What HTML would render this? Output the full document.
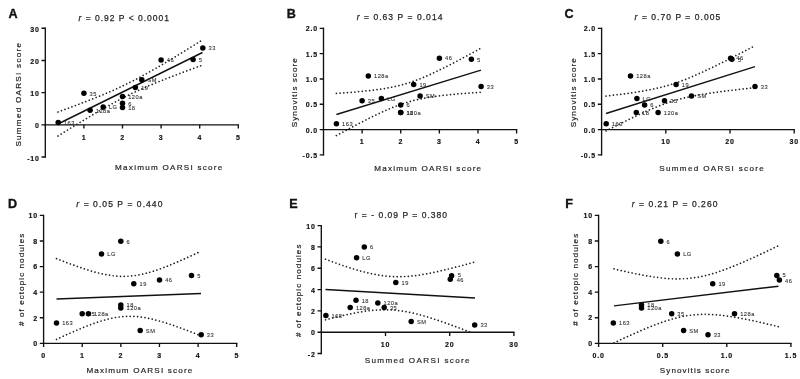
<!DOCTYPE html>
<html><head><meta charset="utf-8"><title>Figure</title>
<style>html,body{margin:0;padding:0;background:#fff}svg{display:block;filter:blur(0.3px)}text{font-family:"Liberation Sans", Arial, sans-serif;white-space:pre}</style></head><body>
<svg width="800" height="379" viewBox="0 0 800 379">
<rect width="800" height="379" fill="#fff"/>
<g stroke="#111" stroke-width="1.35" fill="none" stroke-linecap="square">
<path d="M45.30 28.29V156.97"/>
<path d="M45.30 124.80H238.30"/>
<path d="M41.50 28.29H45.30M41.50 60.46H45.30M41.50 92.63H45.30M41.50 124.80H45.30M41.50 156.97H45.30M83.90 124.80V128.60M122.50 124.80V128.60M161.10 124.80V128.60M199.70 124.80V128.60M238.30 124.80V128.60" stroke-linecap="butt"/>
</g>
<text x="39.80" y="31.89" font-size="7.0" fill="#111" stroke="#111" stroke-width="0.15" font-weight="bold" text-anchor="end" letter-spacing="0.85">30</text>
<text x="39.80" y="64.06" font-size="7.0" fill="#111" stroke="#111" stroke-width="0.15" font-weight="bold" text-anchor="end" letter-spacing="0.85">20</text>
<text x="39.80" y="96.23" font-size="7.0" fill="#111" stroke="#111" stroke-width="0.15" font-weight="bold" text-anchor="end" letter-spacing="0.85">10</text>
<text x="39.80" y="128.40" font-size="7.0" fill="#111" stroke="#111" stroke-width="0.15" font-weight="bold" text-anchor="end" letter-spacing="0.85">0</text>
<text x="39.80" y="160.57" font-size="7.0" fill="#111" stroke="#111" stroke-width="0.15" font-weight="bold" text-anchor="end" letter-spacing="0.85">-10</text>
<text x="84.00" y="139.55" font-size="7.0" fill="#111" stroke="#111" stroke-width="0.15" font-weight="bold" text-anchor="middle" letter-spacing="0.85">1</text>
<text x="122.60" y="139.55" font-size="7.0" fill="#111" stroke="#111" stroke-width="0.15" font-weight="bold" text-anchor="middle" letter-spacing="0.85">2</text>
<text x="161.20" y="139.55" font-size="7.0" fill="#111" stroke="#111" stroke-width="0.15" font-weight="bold" text-anchor="middle" letter-spacing="0.85">3</text>
<text x="199.80" y="139.55" font-size="7.0" fill="#111" stroke="#111" stroke-width="0.15" font-weight="bold" text-anchor="middle" letter-spacing="0.85">4</text>
<text x="238.40" y="139.55" font-size="7.0" fill="#111" stroke="#111" stroke-width="0.15" font-weight="bold" text-anchor="middle" letter-spacing="0.85">5</text>
<path d="M58.0 112.0 L60.4 111.1 L62.8 110.2 L65.2 109.3 L67.6 108.5 L70.0 107.6 L72.5 106.7 L74.9 105.8 L77.3 104.8 L79.7 103.9 L82.1 103.0 L84.5 102.1 L86.9 101.1 L89.3 100.2 L91.7 99.3 L94.1 98.3 L96.5 97.3 L98.9 96.4 L101.3 95.4 L103.8 94.4 L106.2 93.3 L108.6 92.3 L111.0 91.3 L113.4 90.2 L115.8 89.1 L118.2 88.0 L120.6 86.9 L123.0 85.8 L125.4 84.6 L127.8 83.4 L130.2 82.2 L132.7 81.0 L135.1 79.8 L137.5 78.5 L139.9 77.2 L142.3 75.9 L144.7 74.6 L147.1 73.3 L149.5 71.9 L151.9 70.6 L154.3 69.2 L156.7 67.8 L159.2 66.4 L161.6 65.0 L164.0 63.5 L166.4 62.1 L168.8 60.7 L171.2 59.2 L173.6 57.8 L176.0 56.3 L178.4 54.8 L180.8 53.4 L183.2 51.9 L185.6 50.4 L188.1 48.9 L190.5 47.4 L192.9 45.9 L195.3 44.4 L197.7 42.9 L200.1 41.4 L202.5 39.9" fill="none" stroke="#2b1c1c" stroke-width="1.7" stroke-linecap="round" stroke-dasharray="0.01 3.7"/>
<path d="M58.0 136.0 L60.4 134.5 L62.8 133.0 L65.2 131.5 L67.6 130.0 L70.0 128.5 L72.5 127.0 L74.9 125.6 L77.3 124.1 L79.7 122.6 L82.1 121.2 L84.5 119.7 L86.9 118.3 L89.3 116.8 L91.7 115.4 L94.1 114.0 L96.5 112.5 L98.9 111.1 L101.3 109.7 L103.8 108.4 L106.2 107.0 L108.6 105.6 L111.0 104.3 L113.4 103.0 L115.8 101.7 L118.2 100.4 L120.6 99.1 L123.0 97.9 L125.4 96.6 L127.8 95.4 L130.2 94.3 L132.7 93.1 L135.1 92.0 L137.5 90.8 L139.9 89.7 L142.3 88.7 L144.7 87.6 L147.1 86.5 L149.5 85.5 L151.9 84.5 L154.3 83.5 L156.7 82.5 L159.2 81.5 L161.6 80.6 L164.0 79.6 L166.4 78.6 L168.8 77.7 L171.2 76.8 L173.6 75.8 L176.0 74.9 L178.4 74.0 L180.8 73.1 L183.2 72.2 L185.6 71.3 L188.1 70.4 L190.5 69.5 L192.9 68.6 L195.3 67.7 L197.7 66.8 L200.1 66.0 L202.5 65.1" fill="none" stroke="#2b1c1c" stroke-width="1.7" stroke-linecap="round" stroke-dasharray="0.01 3.7"/>
<path d="M58.0 124.0L202.5 52.5" stroke="#111" stroke-width="1.4" fill="none"/>
<circle cx="58.2" cy="122.5" r="2.75" fill="#000"/>
<text x="63.89" y="124.82" font-size="5.7" fill="#333" stroke="#333" stroke-width="0.1" letter-spacing="0.5">163</text>
<circle cx="83.9" cy="93.3" r="2.75" fill="#000"/>
<text x="89.60" y="95.57" font-size="5.7" fill="#333" stroke="#333" stroke-width="0.1" letter-spacing="0.5">35</text>
<circle cx="90.1" cy="110.3" r="2.75" fill="#000"/>
<text x="95.78" y="112.62" font-size="5.7" fill="#333" stroke="#333" stroke-width="0.1" letter-spacing="0.5">128a</text>
<circle cx="103.2" cy="107.1" r="2.75" fill="#000"/>
<text x="108.90" y="109.41" font-size="5.7" fill="#333" stroke="#333" stroke-width="0.1" letter-spacing="0.5">LG</text>
<circle cx="122.5" cy="107.4" r="2.75" fill="#000"/>
<text x="128.20" y="109.73" font-size="5.7" fill="#333" stroke="#333" stroke-width="0.1" letter-spacing="0.5">18</text>
<circle cx="122.5" cy="103.2" r="2.75" fill="#000"/>
<text x="128.20" y="105.55" font-size="5.7" fill="#333" stroke="#333" stroke-width="0.1" letter-spacing="0.5">6</text>
<circle cx="122.5" cy="96.5" r="2.75" fill="#000"/>
<text x="128.20" y="98.79" font-size="5.7" fill="#333" stroke="#333" stroke-width="0.1" letter-spacing="0.5">120a</text>
<circle cx="135.4" cy="87.5" r="2.75" fill="#000"/>
<text x="141.13" y="89.78" font-size="5.7" fill="#333" stroke="#333" stroke-width="0.1" letter-spacing="0.5">19</text>
<circle cx="141.8" cy="79.8" r="2.75" fill="#000"/>
<text x="147.50" y="82.06" font-size="5.7" fill="#333" stroke="#333" stroke-width="0.1" letter-spacing="0.5">SM</text>
<circle cx="161.1" cy="60.1" r="2.75" fill="#000"/>
<text x="166.80" y="62.44" font-size="5.7" fill="#333" stroke="#333" stroke-width="0.1" letter-spacing="0.5">46</text>
<circle cx="193.1" cy="59.5" r="2.75" fill="#000"/>
<text x="198.84" y="61.79" font-size="5.7" fill="#333" stroke="#333" stroke-width="0.1" letter-spacing="0.5">5</text>
<circle cx="202.8" cy="47.9" r="2.75" fill="#000"/>
<text x="208.49" y="50.21" font-size="5.7" fill="#333" stroke="#333" stroke-width="0.1" letter-spacing="0.5">33</text>
<text x="8.45" y="17.70" font-size="12.6" fill="#111" stroke="#111" stroke-width="0.35" font-weight="bold">A</text>
<text x="78.50" y="21.00" font-size="8.5" fill="#262626" stroke="#262626" stroke-width="0.25" textLength="90.50" lengthAdjust="spacing"><tspan font-style="italic">r</tspan> = 0.92 P &lt; 0.0001</text>
<text x="115.10" y="169.50" font-size="8.1" fill="#262626" stroke="#262626" stroke-width="0.2" textLength="107.20" lengthAdjust="spacing">Maximum OARSI score</text>
<text x="21.20" y="146.60" font-size="8.1" fill="#262626" stroke="#262626" stroke-width="0.2" textLength="103.60" lengthAdjust="spacing" transform="rotate(-90 21.20 146.60)">Summed OARSI score</text>
<g stroke="#111" stroke-width="1.35" fill="none" stroke-linecap="square">
<path d="M323.50 28.30V154.92"/>
<path d="M323.50 129.60H516.60"/>
<path d="M319.70 28.30H323.50M319.70 53.62H323.50M319.70 78.95H323.50M319.70 104.27H323.50M319.70 129.60H323.50M319.70 154.92H323.50M362.12 129.60V133.40M400.74 129.60V133.40M439.36 129.60V133.40M477.98 129.60V133.40M516.60 129.60V133.40" stroke-linecap="butt"/>
</g>
<text x="318.00" y="31.40" font-size="7.0" fill="#111" stroke="#111" stroke-width="0.15" font-weight="bold" text-anchor="end" letter-spacing="0.85">2.0</text>
<text x="318.00" y="56.73" font-size="7.0" fill="#111" stroke="#111" stroke-width="0.15" font-weight="bold" text-anchor="end" letter-spacing="0.85">1.5</text>
<text x="318.00" y="82.05" font-size="7.0" fill="#111" stroke="#111" stroke-width="0.15" font-weight="bold" text-anchor="end" letter-spacing="0.85">1.0</text>
<text x="318.00" y="107.37" font-size="7.0" fill="#111" stroke="#111" stroke-width="0.15" font-weight="bold" text-anchor="end" letter-spacing="0.85">0.5</text>
<text x="318.00" y="132.70" font-size="7.0" fill="#111" stroke="#111" stroke-width="0.15" font-weight="bold" text-anchor="end" letter-spacing="0.85">0.0</text>
<text x="318.00" y="158.02" font-size="7.0" fill="#111" stroke="#111" stroke-width="0.15" font-weight="bold" text-anchor="end" letter-spacing="0.85">-0.5</text>
<text x="362.22" y="144.35" font-size="7.0" fill="#111" stroke="#111" stroke-width="0.15" font-weight="bold" text-anchor="middle" letter-spacing="0.85">1</text>
<text x="400.84" y="144.35" font-size="7.0" fill="#111" stroke="#111" stroke-width="0.15" font-weight="bold" text-anchor="middle" letter-spacing="0.85">2</text>
<text x="439.46" y="144.35" font-size="7.0" fill="#111" stroke="#111" stroke-width="0.15" font-weight="bold" text-anchor="middle" letter-spacing="0.85">3</text>
<text x="478.08" y="144.35" font-size="7.0" fill="#111" stroke="#111" stroke-width="0.15" font-weight="bold" text-anchor="middle" letter-spacing="0.85">4</text>
<text x="516.70" y="144.35" font-size="7.0" fill="#111" stroke="#111" stroke-width="0.15" font-weight="bold" text-anchor="middle" letter-spacing="0.85">5</text>
<path d="M336.4 93.4 L338.8 93.2 L341.2 93.1 L343.6 92.9 L346.0 92.7 L348.4 92.5 L350.9 92.4 L353.3 92.2 L355.7 92.0 L358.1 91.7 L360.5 91.5 L362.9 91.3 L365.3 91.0 L367.7 90.8 L370.1 90.5 L372.5 90.2 L375.0 89.9 L377.4 89.6 L379.8 89.3 L382.2 88.9 L384.6 88.5 L387.0 88.1 L389.4 87.7 L391.8 87.2 L394.2 86.7 L396.6 86.2 L399.1 85.6 L401.5 85.0 L403.9 84.3 L406.3 83.6 L408.7 82.8 L411.1 82.1 L413.5 81.2 L415.9 80.3 L418.3 79.4 L420.8 78.5 L423.2 77.5 L425.6 76.4 L428.0 75.4 L430.4 74.3 L432.8 73.2 L435.2 72.0 L437.6 70.9 L440.0 69.7 L442.4 68.5 L444.9 67.3 L447.3 66.1 L449.7 64.9 L452.1 63.6 L454.5 62.4 L456.9 61.1 L459.3 59.9 L461.7 58.6 L464.1 57.3 L466.5 56.0 L468.9 54.7 L471.4 53.4 L473.8 52.1 L476.2 50.8 L478.6 49.5 L481.0 48.1" fill="none" stroke="#2b1c1c" stroke-width="1.7" stroke-linecap="round" stroke-dasharray="0.01 3.7"/>
<path d="M336.4 135.6 L338.8 134.3 L341.2 133.0 L343.6 131.7 L346.0 130.4 L348.4 129.1 L350.9 127.8 L353.3 126.5 L355.7 125.2 L358.1 124.0 L360.5 122.7 L362.9 121.5 L365.3 120.2 L367.7 119.0 L370.1 117.8 L372.5 116.6 L375.0 115.4 L377.4 114.3 L379.8 113.1 L382.2 112.0 L384.6 110.9 L387.0 109.9 L389.4 108.8 L391.8 107.8 L394.2 106.8 L396.6 105.9 L399.1 105.0 L401.5 104.2 L403.9 103.3 L406.3 102.6 L408.7 101.9 L411.1 101.2 L413.5 100.5 L415.9 99.9 L418.3 99.4 L420.8 98.9 L423.2 98.4 L425.6 97.9 L428.0 97.5 L430.4 97.1 L432.8 96.8 L435.2 96.4 L437.6 96.1 L440.0 95.8 L442.4 95.5 L444.9 95.2 L447.3 95.0 L449.7 94.7 L452.1 94.5 L454.5 94.3 L456.9 94.0 L459.3 93.8 L461.7 93.6 L464.1 93.4 L466.5 93.3 L468.9 93.1 L471.4 92.9 L473.8 92.7 L476.2 92.6 L478.6 92.4 L481.0 92.3" fill="none" stroke="#2b1c1c" stroke-width="1.7" stroke-linecap="round" stroke-dasharray="0.01 3.7"/>
<path d="M336.4 114.5L481.0 70.2" stroke="#111" stroke-width="1.4" fill="none"/>
<circle cx="336.4" cy="123.8" r="2.75" fill="#000"/>
<text x="342.10" y="126.08" font-size="5.7" fill="#333" stroke="#333" stroke-width="0.1" letter-spacing="0.5">163</text>
<circle cx="362.1" cy="100.7" r="2.75" fill="#000"/>
<text x="367.82" y="103.03" font-size="5.7" fill="#333" stroke="#333" stroke-width="0.1" letter-spacing="0.5">35</text>
<circle cx="368.3" cy="75.9" r="2.75" fill="#000"/>
<text x="374.00" y="78.21" font-size="5.7" fill="#333" stroke="#333" stroke-width="0.1" letter-spacing="0.5">128a</text>
<circle cx="381.4" cy="98.5" r="2.75" fill="#000"/>
<text x="387.13" y="100.75" font-size="5.7" fill="#333" stroke="#333" stroke-width="0.1" letter-spacing="0.5">LG</text>
<circle cx="400.7" cy="112.6" r="2.75" fill="#000"/>
<text x="406.44" y="114.93" font-size="5.7" fill="#333" stroke="#333" stroke-width="0.1" letter-spacing="0.5">18</text>
<circle cx="400.7" cy="105.0" r="2.75" fill="#000"/>
<text x="406.44" y="107.33" font-size="5.7" fill="#333" stroke="#333" stroke-width="0.1" letter-spacing="0.5">6</text>
<circle cx="400.7" cy="112.6" r="2.75" fill="#000"/>
<text x="406.44" y="114.93" font-size="5.7" fill="#333" stroke="#333" stroke-width="0.1" letter-spacing="0.5">120a</text>
<circle cx="413.7" cy="84.5" r="2.75" fill="#000"/>
<text x="419.38" y="86.82" font-size="5.7" fill="#333" stroke="#333" stroke-width="0.1" letter-spacing="0.5">19</text>
<circle cx="420.1" cy="96.0" r="2.75" fill="#000"/>
<text x="425.75" y="98.32" font-size="5.7" fill="#333" stroke="#333" stroke-width="0.1" letter-spacing="0.5">SM</text>
<circle cx="439.4" cy="58.2" r="2.75" fill="#000"/>
<text x="445.06" y="60.48" font-size="5.7" fill="#333" stroke="#333" stroke-width="0.1" letter-spacing="0.5">46</text>
<circle cx="471.4" cy="59.2" r="2.75" fill="#000"/>
<text x="477.11" y="61.50" font-size="5.7" fill="#333" stroke="#333" stroke-width="0.1" letter-spacing="0.5">5</text>
<circle cx="481.1" cy="86.4" r="2.75" fill="#000"/>
<text x="486.77" y="88.70" font-size="5.7" fill="#333" stroke="#333" stroke-width="0.1" letter-spacing="0.5">33</text>
<text x="286.80" y="17.70" font-size="12.6" fill="#111" stroke="#111" stroke-width="0.35" font-weight="bold">B</text>
<text x="356.70" y="20.10" font-size="8.5" fill="#262626" stroke="#262626" stroke-width="0.25" textLength="85.70" lengthAdjust="spacing"><tspan font-style="italic">r</tspan> = 0.63 P = 0.014</text>
<text x="374.30" y="170.50" font-size="8.1" fill="#262626" stroke="#262626" stroke-width="0.2" textLength="106.80" lengthAdjust="spacing">Maximum OARSI score</text>
<text x="297.10" y="127.20" font-size="8.1" fill="#262626" stroke="#262626" stroke-width="0.2" textLength="68.90" lengthAdjust="spacing" transform="rotate(-90 297.10 127.20)">Synovitis score</text>
<g stroke="#111" stroke-width="1.35" fill="none" stroke-linecap="square">
<path d="M601.60 28.30V154.92"/>
<path d="M601.60 129.60H794.20"/>
<path d="M597.80 28.30H601.60M597.80 53.62H601.60M597.80 78.95H601.60M597.80 104.27H601.60M597.80 129.60H601.60M597.80 154.92H601.60M665.80 129.60V133.40M730.00 129.60V133.40M794.20 129.60V133.40" stroke-linecap="butt"/>
</g>
<text x="596.10" y="31.40" font-size="7.0" fill="#111" stroke="#111" stroke-width="0.15" font-weight="bold" text-anchor="end" letter-spacing="0.85">2.0</text>
<text x="596.10" y="56.73" font-size="7.0" fill="#111" stroke="#111" stroke-width="0.15" font-weight="bold" text-anchor="end" letter-spacing="0.85">1.5</text>
<text x="596.10" y="82.05" font-size="7.0" fill="#111" stroke="#111" stroke-width="0.15" font-weight="bold" text-anchor="end" letter-spacing="0.85">1.0</text>
<text x="596.10" y="107.37" font-size="7.0" fill="#111" stroke="#111" stroke-width="0.15" font-weight="bold" text-anchor="end" letter-spacing="0.85">0.5</text>
<text x="596.10" y="132.70" font-size="7.0" fill="#111" stroke="#111" stroke-width="0.15" font-weight="bold" text-anchor="end" letter-spacing="0.85">0.0</text>
<text x="596.10" y="158.02" font-size="7.0" fill="#111" stroke="#111" stroke-width="0.15" font-weight="bold" text-anchor="end" letter-spacing="0.85">-0.5</text>
<text x="665.90" y="144.35" font-size="7.0" fill="#111" stroke="#111" stroke-width="0.15" font-weight="bold" text-anchor="middle" letter-spacing="0.85">10</text>
<text x="730.10" y="144.35" font-size="7.0" fill="#111" stroke="#111" stroke-width="0.15" font-weight="bold" text-anchor="middle" letter-spacing="0.85">20</text>
<text x="794.30" y="144.35" font-size="7.0" fill="#111" stroke="#111" stroke-width="0.15" font-weight="bold" text-anchor="middle" letter-spacing="0.85">30</text>
<path d="M606.0 96.1 L608.5 95.8 L611.0 95.5 L613.5 95.2 L615.9 94.9 L618.4 94.6 L620.9 94.3 L623.4 94.0 L625.9 93.6 L628.4 93.3 L630.8 92.9 L633.3 92.6 L635.8 92.2 L638.3 91.8 L640.8 91.4 L643.2 91.0 L645.7 90.5 L648.2 90.1 L650.7 89.6 L653.2 89.1 L655.7 88.5 L658.1 88.0 L660.6 87.4 L663.1 86.7 L665.6 86.1 L668.1 85.4 L670.6 84.6 L673.0 83.8 L675.5 83.0 L678.0 82.2 L680.5 81.3 L683.0 80.3 L685.5 79.4 L688.0 78.4 L690.4 77.4 L692.9 76.3 L695.4 75.2 L697.9 74.1 L700.4 73.0 L702.9 71.9 L705.3 70.7 L707.8 69.6 L710.3 68.4 L712.8 67.2 L715.3 66.0 L717.8 64.8 L720.2 63.5 L722.7 62.3 L725.2 61.1 L727.7 59.8 L730.2 58.5 L732.6 57.3 L735.1 56.0 L737.6 54.7 L740.1 53.5 L742.6 52.2 L745.1 50.9 L747.5 49.6 L750.0 48.3 L752.5 47.0 L755.0 45.7" fill="none" stroke="#2b1c1c" stroke-width="1.7" stroke-linecap="round" stroke-dasharray="0.01 3.7"/>
<path d="M606.0 130.9 L608.5 129.6 L611.0 128.4 L613.5 127.1 L615.9 125.9 L618.4 124.6 L620.9 123.4 L623.4 122.1 L625.9 120.9 L628.4 119.7 L630.8 118.5 L633.3 117.3 L635.8 116.1 L638.3 114.9 L640.8 113.8 L643.2 112.6 L645.7 111.5 L648.2 110.4 L650.7 109.3 L653.2 108.3 L655.7 107.3 L658.1 106.3 L660.6 105.3 L663.1 104.4 L665.6 103.5 L668.1 102.6 L670.6 101.8 L673.0 101.0 L675.5 100.3 L678.0 99.6 L680.5 98.9 L683.0 98.3 L685.5 97.7 L688.0 97.1 L690.4 96.6 L692.9 96.1 L695.4 95.6 L697.9 95.1 L700.4 94.7 L702.9 94.3 L705.3 93.9 L707.8 93.5 L710.3 93.1 L712.8 92.7 L715.3 92.4 L717.8 92.0 L720.2 91.7 L722.7 91.4 L725.2 91.1 L727.7 90.8 L730.2 90.5 L732.6 90.2 L735.1 89.9 L737.6 89.6 L740.1 89.3 L742.6 89.0 L745.1 88.8 L747.5 88.5 L750.0 88.2 L752.5 88.0 L755.0 87.7" fill="none" stroke="#2b1c1c" stroke-width="1.7" stroke-linecap="round" stroke-dasharray="0.01 3.7"/>
<path d="M606.0 113.5L755.0 66.7" stroke="#111" stroke-width="1.4" fill="none"/>
<circle cx="606.2" cy="123.8" r="2.75" fill="#000"/>
<text x="611.86" y="126.08" font-size="5.7" fill="#333" stroke="#333" stroke-width="0.1" letter-spacing="0.5">163</text>
<circle cx="664.5" cy="100.7" r="2.75" fill="#000"/>
<text x="670.22" y="103.03" font-size="5.7" fill="#333" stroke="#333" stroke-width="0.1" letter-spacing="0.5">35</text>
<circle cx="630.5" cy="75.9" r="2.75" fill="#000"/>
<text x="636.19" y="78.21" font-size="5.7" fill="#333" stroke="#333" stroke-width="0.1" letter-spacing="0.5">128a</text>
<circle cx="636.9" cy="98.5" r="2.75" fill="#000"/>
<text x="642.61" y="100.75" font-size="5.7" fill="#333" stroke="#333" stroke-width="0.1" letter-spacing="0.5">LG</text>
<circle cx="636.3" cy="112.6" r="2.75" fill="#000"/>
<text x="641.97" y="114.93" font-size="5.7" fill="#333" stroke="#333" stroke-width="0.1" letter-spacing="0.5">18</text>
<circle cx="644.6" cy="105.0" r="2.75" fill="#000"/>
<text x="650.31" y="107.33" font-size="5.7" fill="#333" stroke="#333" stroke-width="0.1" letter-spacing="0.5">6</text>
<circle cx="658.1" cy="112.6" r="2.75" fill="#000"/>
<text x="663.80" y="114.93" font-size="5.7" fill="#333" stroke="#333" stroke-width="0.1" letter-spacing="0.5">120a</text>
<circle cx="676.1" cy="84.5" r="2.75" fill="#000"/>
<text x="681.77" y="86.82" font-size="5.7" fill="#333" stroke="#333" stroke-width="0.1" letter-spacing="0.5">19</text>
<circle cx="691.5" cy="96.0" r="2.75" fill="#000"/>
<text x="697.18" y="98.32" font-size="5.7" fill="#333" stroke="#333" stroke-width="0.1" letter-spacing="0.5">SM</text>
<circle cx="730.6" cy="58.2" r="2.75" fill="#000"/>
<text x="736.34" y="60.48" font-size="5.7" fill="#333" stroke="#333" stroke-width="0.1" letter-spacing="0.5">46</text>
<circle cx="731.9" cy="59.2" r="2.75" fill="#000"/>
<text x="737.63" y="61.50" font-size="5.7" fill="#333" stroke="#333" stroke-width="0.1" letter-spacing="0.5">5</text>
<circle cx="755.0" cy="86.4" r="2.75" fill="#000"/>
<text x="760.74" y="88.70" font-size="5.7" fill="#333" stroke="#333" stroke-width="0.1" letter-spacing="0.5">33</text>
<text x="564.40" y="17.70" font-size="12.6" fill="#111" stroke="#111" stroke-width="0.35" font-weight="bold">C</text>
<text x="634.60" y="20.10" font-size="8.5" fill="#262626" stroke="#262626" stroke-width="0.25" textLength="85.60" lengthAdjust="spacing"><tspan font-style="italic">r</tspan> = 0.70 P = 0.005</text>
<text x="659.20" y="170.50" font-size="8.1" fill="#262626" stroke="#262626" stroke-width="0.2" textLength="104.60" lengthAdjust="spacing">Summed OARSI score</text>
<text x="575.60" y="127.20" font-size="8.1" fill="#262626" stroke="#262626" stroke-width="0.2" textLength="68.90" lengthAdjust="spacing" transform="rotate(-90 575.60 127.20)">Synovitis score</text>
<g stroke="#111" stroke-width="1.35" fill="none" stroke-linecap="square">
<path d="M43.60 215.40V343.30"/>
<path d="M43.60 343.30H236.70"/>
<path d="M39.80 215.40H43.60M39.80 240.98H43.60M39.80 266.56H43.60M39.80 292.14H43.60M39.80 317.72H43.60M39.80 343.30H43.60M43.60 343.30V347.10M82.22 343.30V347.10M120.84 343.30V347.10M159.46 343.30V347.10M198.08 343.30V347.10M236.70 343.30V347.10" stroke-linecap="butt"/>
</g>
<text x="38.10" y="218.20" font-size="7.0" fill="#111" stroke="#111" stroke-width="0.15" font-weight="bold" text-anchor="end" letter-spacing="0.85">10</text>
<text x="38.10" y="243.78" font-size="7.0" fill="#111" stroke="#111" stroke-width="0.15" font-weight="bold" text-anchor="end" letter-spacing="0.85">8</text>
<text x="38.10" y="269.36" font-size="7.0" fill="#111" stroke="#111" stroke-width="0.15" font-weight="bold" text-anchor="end" letter-spacing="0.85">6</text>
<text x="38.10" y="294.94" font-size="7.0" fill="#111" stroke="#111" stroke-width="0.15" font-weight="bold" text-anchor="end" letter-spacing="0.85">4</text>
<text x="38.10" y="320.52" font-size="7.0" fill="#111" stroke="#111" stroke-width="0.15" font-weight="bold" text-anchor="end" letter-spacing="0.85">2</text>
<text x="38.10" y="346.10" font-size="7.0" fill="#111" stroke="#111" stroke-width="0.15" font-weight="bold" text-anchor="end" letter-spacing="0.85">0</text>
<text x="43.70" y="358.05" font-size="7.0" fill="#111" stroke="#111" stroke-width="0.15" font-weight="bold" text-anchor="middle" letter-spacing="0.85">0</text>
<text x="82.32" y="358.05" font-size="7.0" fill="#111" stroke="#111" stroke-width="0.15" font-weight="bold" text-anchor="middle" letter-spacing="0.85">1</text>
<text x="120.94" y="358.05" font-size="7.0" fill="#111" stroke="#111" stroke-width="0.15" font-weight="bold" text-anchor="middle" letter-spacing="0.85">2</text>
<text x="159.56" y="358.05" font-size="7.0" fill="#111" stroke="#111" stroke-width="0.15" font-weight="bold" text-anchor="middle" letter-spacing="0.85">3</text>
<text x="198.18" y="358.05" font-size="7.0" fill="#111" stroke="#111" stroke-width="0.15" font-weight="bold" text-anchor="middle" letter-spacing="0.85">4</text>
<text x="236.80" y="358.05" font-size="7.0" fill="#111" stroke="#111" stroke-width="0.15" font-weight="bold" text-anchor="middle" letter-spacing="0.85">5</text>
<path d="M56.5 258.6 L58.9 259.6 L61.3 260.5 L63.7 261.4 L66.1 262.4 L68.5 263.3 L71.0 264.2 L73.4 265.0 L75.8 265.9 L78.2 266.8 L80.6 267.6 L83.0 268.4 L85.4 269.2 L87.8 269.9 L90.2 270.7 L92.6 271.4 L95.0 272.1 L97.4 272.7 L99.8 273.3 L102.3 273.9 L104.7 274.4 L107.1 274.8 L109.5 275.2 L111.9 275.6 L114.3 275.9 L116.7 276.1 L119.1 276.3 L121.5 276.4 L123.9 276.4 L126.3 276.3 L128.8 276.2 L131.2 276.0 L133.6 275.8 L136.0 275.4 L138.4 275.0 L140.8 274.5 L143.2 274.0 L145.6 273.4 L148.0 272.8 L150.4 272.1 L152.8 271.4 L155.2 270.6 L157.7 269.8 L160.1 268.9 L162.5 268.0 L164.9 267.1 L167.3 266.2 L169.7 265.2 L172.1 264.2 L174.5 263.2 L176.9 262.2 L179.3 261.1 L181.7 260.1 L184.1 259.0 L186.6 257.9 L189.0 256.8 L191.4 255.7 L193.8 254.6 L196.2 253.4 L198.6 252.3 L201.0 251.1" fill="none" stroke="#2b1c1c" stroke-width="1.7" stroke-linecap="round" stroke-dasharray="0.01 3.7"/>
<path d="M56.5 339.4 L58.9 338.3 L61.3 337.1 L63.7 336.0 L66.1 334.9 L68.5 333.8 L71.0 332.7 L73.4 331.7 L75.8 330.6 L78.2 329.6 L80.6 328.6 L83.0 327.6 L85.4 326.6 L87.8 325.7 L90.2 324.8 L92.6 323.9 L95.0 323.0 L97.4 322.2 L99.8 321.4 L102.3 320.7 L104.7 320.0 L107.1 319.3 L109.5 318.7 L111.9 318.2 L114.3 317.7 L116.7 317.3 L119.1 317.0 L121.5 316.7 L123.9 316.5 L126.3 316.3 L128.8 316.3 L131.2 316.3 L133.6 316.4 L136.0 316.5 L138.4 316.8 L140.8 317.0 L143.2 317.4 L145.6 317.8 L148.0 318.2 L150.4 318.7 L152.8 319.3 L155.2 319.9 L157.7 320.5 L160.1 321.2 L162.5 321.9 L164.9 322.6 L167.3 323.4 L169.7 324.2 L172.1 325.0 L174.5 325.8 L176.9 326.7 L179.3 327.5 L181.7 328.4 L184.1 329.3 L186.6 330.2 L189.0 331.1 L191.4 332.0 L193.8 333.0 L196.2 333.9 L198.6 334.9 L201.0 335.9" fill="none" stroke="#2b1c1c" stroke-width="1.7" stroke-linecap="round" stroke-dasharray="0.01 3.7"/>
<path d="M56.5 299.0L201.0 293.5" stroke="#111" stroke-width="1.4" fill="none"/>
<circle cx="56.5" cy="323.1" r="2.75" fill="#000"/>
<text x="62.20" y="325.39" font-size="5.7" fill="#333" stroke="#333" stroke-width="0.1" letter-spacing="0.5">163</text>
<circle cx="82.2" cy="313.8" r="2.75" fill="#000"/>
<text x="87.92" y="316.06" font-size="5.7" fill="#333" stroke="#333" stroke-width="0.1" letter-spacing="0.5">35</text>
<circle cx="88.4" cy="313.8" r="2.75" fill="#000"/>
<text x="94.10" y="316.06" font-size="5.7" fill="#333" stroke="#333" stroke-width="0.1" letter-spacing="0.5">128a</text>
<circle cx="101.5" cy="254.0" r="2.75" fill="#000"/>
<text x="107.23" y="256.33" font-size="5.7" fill="#333" stroke="#333" stroke-width="0.1" letter-spacing="0.5">LG</text>
<circle cx="120.8" cy="305.1" r="2.75" fill="#000"/>
<text x="126.54" y="307.36" font-size="5.7" fill="#333" stroke="#333" stroke-width="0.1" letter-spacing="0.5">18</text>
<circle cx="120.8" cy="241.2" r="2.75" fill="#000"/>
<text x="126.54" y="243.54" font-size="5.7" fill="#333" stroke="#333" stroke-width="0.1" letter-spacing="0.5">6</text>
<circle cx="120.8" cy="308.1" r="2.75" fill="#000"/>
<text x="126.54" y="310.43" font-size="5.7" fill="#333" stroke="#333" stroke-width="0.1" letter-spacing="0.5">120a</text>
<circle cx="133.8" cy="283.8" r="2.75" fill="#000"/>
<text x="139.48" y="286.13" font-size="5.7" fill="#333" stroke="#333" stroke-width="0.1" letter-spacing="0.5">19</text>
<circle cx="140.2" cy="330.5" r="2.75" fill="#000"/>
<text x="145.85" y="332.81" font-size="5.7" fill="#333" stroke="#333" stroke-width="0.1" letter-spacing="0.5">SM</text>
<circle cx="159.5" cy="279.9" r="2.75" fill="#000"/>
<text x="165.16" y="282.16" font-size="5.7" fill="#333" stroke="#333" stroke-width="0.1" letter-spacing="0.5">46</text>
<circle cx="191.5" cy="275.5" r="2.75" fill="#000"/>
<text x="197.21" y="277.81" font-size="5.7" fill="#333" stroke="#333" stroke-width="0.1" letter-spacing="0.5">5</text>
<circle cx="201.2" cy="334.7" r="2.75" fill="#000"/>
<text x="206.87" y="337.03" font-size="5.7" fill="#333" stroke="#333" stroke-width="0.1" letter-spacing="0.5">33</text>
<text x="8.10" y="208.00" font-size="12.6" fill="#111" stroke="#111" stroke-width="0.35" font-weight="bold">D</text>
<text x="76.30" y="207.40" font-size="8.5" fill="#262626" stroke="#262626" stroke-width="0.25" textLength="86.10" lengthAdjust="spacing"><tspan font-style="italic">r</tspan> = 0.05 P = 0.440</text>
<text x="86.40" y="373.10" font-size="8.1" fill="#262626" stroke="#262626" stroke-width="0.2" textLength="105.90" lengthAdjust="spacing">Maximum OARSI score</text>
<text x="23.80" y="325.90" font-size="8.1" fill="#262626" stroke="#262626" stroke-width="0.2" textLength="92.20" lengthAdjust="spacing" transform="rotate(-90 23.80 325.90)"># of ectopic nodules</text>
<g stroke="#111" stroke-width="1.35" fill="none" stroke-linecap="square">
<path d="M321.30 225.60V353.52"/>
<path d="M321.30 332.20H513.90"/>
<path d="M317.50 225.60H321.30M317.50 246.92H321.30M317.50 268.24H321.30M317.50 289.56H321.30M317.50 310.88H321.30M317.50 332.20H321.30M317.50 353.52H321.30M385.50 332.20V336.00M449.70 332.20V336.00M513.90 332.20V336.00" stroke-linecap="butt"/>
</g>
<text x="315.80" y="228.70" font-size="7.0" fill="#111" stroke="#111" stroke-width="0.15" font-weight="bold" text-anchor="end" letter-spacing="0.85">10</text>
<text x="315.80" y="250.02" font-size="7.0" fill="#111" stroke="#111" stroke-width="0.15" font-weight="bold" text-anchor="end" letter-spacing="0.85">8</text>
<text x="315.80" y="271.34" font-size="7.0" fill="#111" stroke="#111" stroke-width="0.15" font-weight="bold" text-anchor="end" letter-spacing="0.85">6</text>
<text x="315.80" y="292.66" font-size="7.0" fill="#111" stroke="#111" stroke-width="0.15" font-weight="bold" text-anchor="end" letter-spacing="0.85">4</text>
<text x="315.80" y="313.98" font-size="7.0" fill="#111" stroke="#111" stroke-width="0.15" font-weight="bold" text-anchor="end" letter-spacing="0.85">2</text>
<text x="315.80" y="335.30" font-size="7.0" fill="#111" stroke="#111" stroke-width="0.15" font-weight="bold" text-anchor="end" letter-spacing="0.85">0</text>
<text x="315.80" y="356.62" font-size="7.0" fill="#111" stroke="#111" stroke-width="0.15" font-weight="bold" text-anchor="end" letter-spacing="0.85">-2</text>
<text x="385.60" y="346.95" font-size="7.0" fill="#111" stroke="#111" stroke-width="0.15" font-weight="bold" text-anchor="middle" letter-spacing="0.85">10</text>
<text x="449.80" y="346.95" font-size="7.0" fill="#111" stroke="#111" stroke-width="0.15" font-weight="bold" text-anchor="middle" letter-spacing="0.85">20</text>
<text x="514.00" y="346.95" font-size="7.0" fill="#111" stroke="#111" stroke-width="0.15" font-weight="bold" text-anchor="middle" letter-spacing="0.85">30</text>
<path d="M325.5 259.2 L328.0 260.1 L330.5 261.1 L333.0 262.0 L335.5 262.9 L338.0 263.8 L340.4 264.6 L342.9 265.5 L345.4 266.3 L347.9 267.2 L350.4 268.0 L352.9 268.8 L355.4 269.5 L357.9 270.3 L360.4 271.0 L362.9 271.6 L365.4 272.3 L367.9 272.9 L370.4 273.5 L372.8 274.0 L375.3 274.5 L377.8 275.0 L380.3 275.4 L382.8 275.7 L385.3 276.0 L387.8 276.3 L390.3 276.5 L392.8 276.6 L395.3 276.7 L397.8 276.7 L400.2 276.7 L402.7 276.6 L405.2 276.5 L407.7 276.4 L410.2 276.1 L412.7 275.9 L415.2 275.6 L417.7 275.3 L420.2 274.9 L422.7 274.5 L425.2 274.1 L427.7 273.6 L430.1 273.1 L432.6 272.6 L435.1 272.1 L437.6 271.6 L440.1 271.0 L442.6 270.4 L445.1 269.8 L447.6 269.2 L450.1 268.6 L452.6 268.0 L455.1 267.3 L457.6 266.7 L460.1 266.0 L462.5 265.4 L465.0 264.7 L467.5 264.0 L470.0 263.3 L472.5 262.6 L475.0 261.9" fill="none" stroke="#2b1c1c" stroke-width="1.7" stroke-linecap="round" stroke-dasharray="0.01 3.7"/>
<path d="M325.5 319.8 L328.0 319.1 L330.5 318.5 L333.0 317.9 L335.5 317.3 L338.0 316.7 L340.4 316.1 L342.9 315.5 L345.4 314.9 L347.9 314.4 L350.4 313.9 L352.9 313.4 L355.4 312.9 L357.9 312.4 L360.4 312.0 L362.9 311.6 L365.4 311.2 L367.9 310.9 L370.4 310.6 L372.8 310.4 L375.3 310.1 L377.8 310.0 L380.3 309.9 L382.8 309.8 L385.3 309.8 L387.8 309.8 L390.3 309.9 L392.8 310.0 L395.3 310.2 L397.8 310.5 L400.2 310.8 L402.7 311.1 L405.2 311.5 L407.7 312.0 L410.2 312.5 L412.7 313.0 L415.2 313.6 L417.7 314.2 L420.2 314.9 L422.7 315.6 L425.2 316.3 L427.7 317.0 L430.1 317.8 L432.6 318.6 L435.1 319.4 L437.6 320.2 L440.1 321.0 L442.6 321.9 L445.1 322.8 L447.6 323.7 L450.1 324.6 L452.6 325.5 L455.1 326.4 L457.6 327.3 L460.1 328.3 L462.5 329.2 L465.0 330.2 L467.5 331.1 L470.0 332.1" fill="none" stroke="#2b1c1c" stroke-width="1.7" stroke-linecap="round" stroke-dasharray="0.01 3.7"/>
<path d="M325.5 289.5L475.0 298.0" stroke="#111" stroke-width="1.4" fill="none"/>
<circle cx="325.9" cy="315.4" r="2.75" fill="#000"/>
<text x="331.56" y="317.66" font-size="5.7" fill="#333" stroke="#333" stroke-width="0.1" letter-spacing="0.5">163</text>
<circle cx="384.2" cy="307.6" r="2.75" fill="#000"/>
<text x="389.92" y="309.88" font-size="5.7" fill="#333" stroke="#333" stroke-width="0.1" letter-spacing="0.5">35</text>
<circle cx="350.2" cy="307.6" r="2.75" fill="#000"/>
<text x="355.89" y="309.88" font-size="5.7" fill="#333" stroke="#333" stroke-width="0.1" letter-spacing="0.5">128a</text>
<circle cx="356.6" cy="257.8" r="2.75" fill="#000"/>
<text x="362.31" y="260.09" font-size="5.7" fill="#333" stroke="#333" stroke-width="0.1" letter-spacing="0.5">LG</text>
<circle cx="356.0" cy="300.3" r="2.75" fill="#000"/>
<text x="361.67" y="302.63" font-size="5.7" fill="#333" stroke="#333" stroke-width="0.1" letter-spacing="0.5">18</text>
<circle cx="364.3" cy="247.1" r="2.75" fill="#000"/>
<text x="370.01" y="249.43" font-size="5.7" fill="#333" stroke="#333" stroke-width="0.1" letter-spacing="0.5">6</text>
<circle cx="377.8" cy="302.9" r="2.75" fill="#000"/>
<text x="383.50" y="305.19" font-size="5.7" fill="#333" stroke="#333" stroke-width="0.1" letter-spacing="0.5">120a</text>
<circle cx="395.8" cy="282.6" r="2.75" fill="#000"/>
<text x="401.47" y="284.93" font-size="5.7" fill="#333" stroke="#333" stroke-width="0.1" letter-spacing="0.5">19</text>
<circle cx="411.2" cy="321.5" r="2.75" fill="#000"/>
<text x="416.88" y="323.84" font-size="5.7" fill="#333" stroke="#333" stroke-width="0.1" letter-spacing="0.5">SM</text>
<circle cx="450.3" cy="279.3" r="2.75" fill="#000"/>
<text x="456.64" y="282.23" font-size="5.7" fill="#333" stroke="#333" stroke-width="0.1" letter-spacing="0.5">46</text>
<circle cx="451.6" cy="275.7" r="2.75" fill="#000"/>
<text x="457.63" y="276.70" font-size="5.7" fill="#333" stroke="#333" stroke-width="0.1" letter-spacing="0.5">5</text>
<circle cx="474.7" cy="325.1" r="2.75" fill="#000"/>
<text x="480.44" y="327.36" font-size="5.7" fill="#333" stroke="#333" stroke-width="0.1" letter-spacing="0.5">33</text>
<text x="289.20" y="208.00" font-size="12.6" fill="#111" stroke="#111" stroke-width="0.35" font-weight="bold">E</text>
<text x="354.60" y="217.80" font-size="8.5" fill="#262626" stroke="#262626" stroke-width="0.25" textLength="92.40" lengthAdjust="spacing">r = - 0.09 P = 0.380</text>
<text x="364.70" y="362.60" font-size="8.1" fill="#262626" stroke="#262626" stroke-width="0.2" textLength="104.90" lengthAdjust="spacing">Summed OARSI score</text>
<text x="300.60" y="337.00" font-size="8.1" fill="#262626" stroke="#262626" stroke-width="0.2" textLength="92.50" lengthAdjust="spacing" transform="rotate(-90 300.60 337.00)"># of ectopic nodules</text>
<g stroke="#111" stroke-width="1.35" fill="none" stroke-linecap="square">
<path d="M598.60 215.40V343.30"/>
<path d="M598.60 343.30H790.90"/>
<path d="M594.80 215.40H598.60M594.80 240.98H598.60M594.80 266.56H598.60M594.80 292.14H598.60M594.80 317.72H598.60M594.80 343.30H598.60M598.60 343.30V347.10M662.70 343.30V347.10M726.80 343.30V347.10M790.90 343.30V347.10" stroke-linecap="butt"/>
</g>
<text x="593.10" y="218.10" font-size="7.0" fill="#111" stroke="#111" stroke-width="0.15" font-weight="bold" text-anchor="end" letter-spacing="0.85">10</text>
<text x="593.10" y="243.68" font-size="7.0" fill="#111" stroke="#111" stroke-width="0.15" font-weight="bold" text-anchor="end" letter-spacing="0.85">8</text>
<text x="593.10" y="269.26" font-size="7.0" fill="#111" stroke="#111" stroke-width="0.15" font-weight="bold" text-anchor="end" letter-spacing="0.85">6</text>
<text x="593.10" y="294.84" font-size="7.0" fill="#111" stroke="#111" stroke-width="0.15" font-weight="bold" text-anchor="end" letter-spacing="0.85">4</text>
<text x="593.10" y="320.42" font-size="7.0" fill="#111" stroke="#111" stroke-width="0.15" font-weight="bold" text-anchor="end" letter-spacing="0.85">2</text>
<text x="593.10" y="346.00" font-size="7.0" fill="#111" stroke="#111" stroke-width="0.15" font-weight="bold" text-anchor="end" letter-spacing="0.85">0</text>
<text x="598.70" y="358.05" font-size="7.0" fill="#111" stroke="#111" stroke-width="0.15" font-weight="bold" text-anchor="middle" letter-spacing="0.85">0.0</text>
<text x="662.80" y="358.05" font-size="7.0" fill="#111" stroke="#111" stroke-width="0.15" font-weight="bold" text-anchor="middle" letter-spacing="0.85">0.5</text>
<text x="726.90" y="358.05" font-size="7.0" fill="#111" stroke="#111" stroke-width="0.15" font-weight="bold" text-anchor="middle" letter-spacing="0.85">1.0</text>
<text x="791.00" y="358.05" font-size="7.0" fill="#111" stroke="#111" stroke-width="0.15" font-weight="bold" text-anchor="middle" letter-spacing="0.85">1.5</text>
<path d="M614.0 268.9 L616.7 269.6 L619.5 270.2 L622.2 270.8 L625.0 271.4 L627.7 272.1 L630.5 272.6 L633.2 273.2 L635.9 273.8 L638.7 274.3 L641.4 274.9 L644.2 275.4 L646.9 275.9 L649.6 276.3 L652.4 276.7 L655.1 277.2 L657.9 277.5 L660.6 277.9 L663.4 278.2 L666.1 278.4 L668.8 278.6 L671.6 278.8 L674.3 278.9 L677.1 278.9 L679.8 278.9 L682.5 278.8 L685.3 278.7 L688.0 278.5 L690.8 278.2 L693.5 277.9 L696.2 277.4 L699.0 277.0 L701.7 276.4 L704.5 275.8 L707.2 275.1 L710.0 274.4 L712.7 273.6 L715.4 272.8 L718.2 271.9 L720.9 270.9 L723.7 270.0 L726.4 268.9 L729.1 267.9 L731.9 266.8 L734.6 265.7 L737.4 264.6 L740.1 263.4 L742.9 262.3 L745.6 261.1 L748.3 259.8 L751.1 258.6 L753.8 257.4 L756.6 256.1 L759.3 254.8 L762.0 253.6 L764.8 252.3 L767.5 251.0 L770.3 249.7 L773.0 248.3 L775.8 247.0 L778.5 245.7" fill="none" stroke="#2b1c1c" stroke-width="1.7" stroke-linecap="round" stroke-dasharray="0.01 3.7"/>
<path d="M614.0 342.9 L616.7 341.6 L619.5 340.3 L622.2 339.0 L625.0 337.7 L627.7 336.5 L630.5 335.2 L633.2 334.0 L635.9 332.8 L638.7 331.6 L641.4 330.4 L644.2 329.2 L646.9 328.1 L649.6 326.9 L652.4 325.9 L655.1 324.8 L657.9 323.8 L660.6 322.8 L663.4 321.8 L666.1 320.9 L668.8 320.1 L671.6 319.2 L674.3 318.5 L677.1 317.8 L679.8 317.1 L682.5 316.5 L685.3 316.0 L688.0 315.6 L690.8 315.2 L693.5 314.9 L696.2 314.7 L699.0 314.5 L701.7 314.4 L704.5 314.3 L707.2 314.4 L710.0 314.4 L712.7 314.6 L715.4 314.8 L718.2 315.0 L720.9 315.3 L723.7 315.6 L726.4 315.9 L729.1 316.3 L731.9 316.7 L734.6 317.2 L737.4 317.7 L740.1 318.2 L742.9 318.7 L745.6 319.2 L748.3 319.8 L751.1 320.3 L753.8 320.9 L756.6 321.5 L759.3 322.1 L762.0 322.8 L764.8 323.4 L767.5 324.1 L770.3 324.7 L773.0 325.4 L775.8 326.0 L778.5 326.7" fill="none" stroke="#2b1c1c" stroke-width="1.7" stroke-linecap="round" stroke-dasharray="0.01 3.7"/>
<path d="M614.0 305.9L778.5 286.2" stroke="#111" stroke-width="1.4" fill="none"/>
<circle cx="613.3" cy="323.1" r="2.75" fill="#000"/>
<text x="619.04" y="325.39" font-size="5.7" fill="#333" stroke="#333" stroke-width="0.1" letter-spacing="0.5">163</text>
<circle cx="671.7" cy="313.8" r="2.75" fill="#000"/>
<text x="677.37" y="316.06" font-size="5.7" fill="#333" stroke="#333" stroke-width="0.1" letter-spacing="0.5">35</text>
<circle cx="734.5" cy="313.8" r="2.75" fill="#000"/>
<text x="740.19" y="316.06" font-size="5.7" fill="#333" stroke="#333" stroke-width="0.1" letter-spacing="0.5">128a</text>
<circle cx="677.4" cy="254.0" r="2.75" fill="#000"/>
<text x="683.14" y="256.33" font-size="5.7" fill="#333" stroke="#333" stroke-width="0.1" letter-spacing="0.5">LG</text>
<circle cx="641.5" cy="305.1" r="2.75" fill="#000"/>
<text x="647.25" y="307.36" font-size="5.7" fill="#333" stroke="#333" stroke-width="0.1" letter-spacing="0.5">18</text>
<circle cx="660.8" cy="241.2" r="2.75" fill="#000"/>
<text x="666.48" y="243.54" font-size="5.7" fill="#333" stroke="#333" stroke-width="0.1" letter-spacing="0.5">6</text>
<circle cx="641.5" cy="308.1" r="2.75" fill="#000"/>
<text x="647.25" y="310.43" font-size="5.7" fill="#333" stroke="#333" stroke-width="0.1" letter-spacing="0.5">120a</text>
<circle cx="712.7" cy="283.8" r="2.75" fill="#000"/>
<text x="718.40" y="286.13" font-size="5.7" fill="#333" stroke="#333" stroke-width="0.1" letter-spacing="0.5">19</text>
<circle cx="683.6" cy="330.5" r="2.75" fill="#000"/>
<text x="689.30" y="332.81" font-size="5.7" fill="#333" stroke="#333" stroke-width="0.1" letter-spacing="0.5">SM</text>
<circle cx="779.4" cy="279.9" r="2.75" fill="#000"/>
<text x="785.06" y="282.66" font-size="5.7" fill="#333" stroke="#333" stroke-width="0.1" letter-spacing="0.5">46</text>
<circle cx="776.8" cy="275.5" r="2.75" fill="#000"/>
<text x="782.50" y="277.01" font-size="5.7" fill="#333" stroke="#333" stroke-width="0.1" letter-spacing="0.5">5</text>
<circle cx="708.0" cy="334.7" r="2.75" fill="#000"/>
<text x="713.65" y="337.03" font-size="5.7" fill="#333" stroke="#333" stroke-width="0.1" letter-spacing="0.5">33</text>
<text x="565.20" y="208.00" font-size="12.6" fill="#111" stroke="#111" stroke-width="0.35" font-weight="bold">F</text>
<text x="631.70" y="207.40" font-size="8.5" fill="#262626" stroke="#262626" stroke-width="0.25" textLength="85.70" lengthAdjust="spacing"><tspan font-style="italic">r</tspan> = 0.21 P = 0.260</text>
<text x="659.80" y="373.10" font-size="8.1" fill="#262626" stroke="#262626" stroke-width="0.2" textLength="69.60" lengthAdjust="spacing">Synovitis score</text>
<text x="577.80" y="325.80" font-size="8.1" fill="#262626" stroke="#262626" stroke-width="0.2" textLength="92.00" lengthAdjust="spacing" transform="rotate(-90 577.80 325.80)"># of ectopic nodules</text>
</svg></body></html>
